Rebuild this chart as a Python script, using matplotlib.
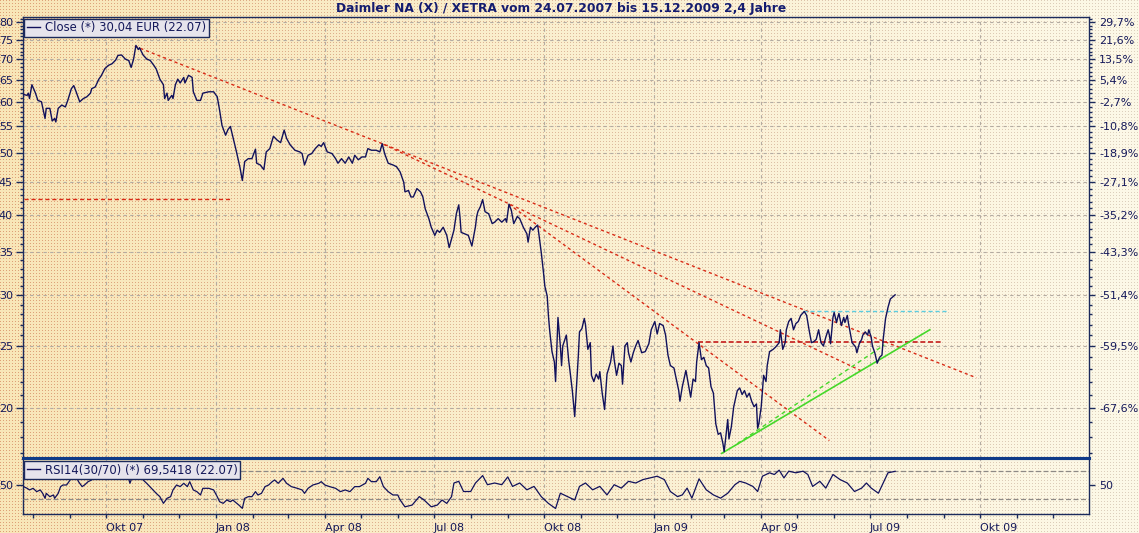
import numpy as np
import pandas as pd
import matplotlib
matplotlib.use("Agg")
import matplotlib.pyplot as plt
import matplotlib.dates as mdates
from matplotlib.ticker import FixedLocator, FixedFormatter, NullFormatter
from matplotlib.lines import Line2D

# ---------------- data ----------------
start_date = "2007-07-24"
title_text = "Daimler NA (X) / XETRA vom 24.07.2007 bis 15.12.2009 2,4 Jahre"
close_label = "Close (*) 30,04 EUR (22.07)"
rsi_label = "RSI14(30/70) (*) 69,5418 (22.07)"

price_days = [0, 3, 4, 5, 7, 10, 12, 15, 18, 19, 22, 24, 26, 27, 29, 32, 35, 37, 40, 42, 44, 47, 50, 53, 56, 57, 60, 63, 65, 68,
              71, 74, 77, 79, 82, 85, 88, 90, 92, 94, 96, 97, 100, 103, 106, 109, 111, 114, 117, 118, 120, 121, 124, 125, 127, 129, 131, 134, 135, 138,
              141, 142, 145, 148, 150, 155, 159, 162, 164, 166, 169, 171, 173, 175, 178, 181, 183, 185, 188, 191, 194, 195, 198, 201, 203, 206, 209, 212, 215, 218,
              220, 223, 227, 231, 233, 235, 238, 241, 244, 247, 249, 251, 254, 258, 261, 263, 266, 269, 272, 275, 277, 280, 283, 286, 288, 291, 295, 298, 300, 302,
              305, 309, 312, 315, 318, 319, 322, 324, 326, 329, 332, 334, 336, 339, 341, 344, 346, 348, 351, 354, 356, 360, 362, 364, 365, 366, 369, 372, 375, 378,
              379, 380, 382, 384, 386, 389, 392, 394, 397, 400, 403, 404, 406, 408, 410, 413, 415, 418, 421, 422, 424, 426, 428, 430, 431, 433, 435, 436, 438, 439,
              440, 442, 444, 445, 447, 449, 450, 451, 454, 456, 457, 459, 461, 463, 464, 465, 467, 469, 470, 472, 474, 475, 477, 479, 481, 482, 484, 486, 488, 491,
              493, 494, 496, 498, 500, 501, 503, 505, 506, 508, 510, 512, 514, 517, 520, 523, 525, 528, 530, 532, 535, 537, 539, 541, 544, 546, 548, 549, 551, 554,
              556, 558, 560, 562, 563, 565, 567, 569, 571, 573, 575, 577, 579, 581, 583, 585, 586, 588, 589, 590, 592, 594, 597, 599, 601, 603, 605, 607, 609, 611,
              613, 614, 615, 617, 619, 621, 622, 624, 627, 629, 632, 633, 635, 637, 638, 640, 642, 644, 646, 648, 650, 653, 655, 657, 659, 661, 663, 665, 667, 669,
              671, 673, 674, 675, 677, 678, 680, 681, 682, 684, 686, 687, 689, 690, 691, 693, 696, 697, 699, 701, 702, 704, 706, 707, 709, 710, 712, 714, 716, 718,
              719, 721, 723, 725, 729]
price_close = [61.7, 61.5, 62, 60.8, 63.9, 62, 60.4, 60.1, 56.6, 58.7, 58.7, 56.1, 56.6, 55.9, 58.7, 59.4, 59, 60.4, 63, 63.7, 62.3, 60.1, 60.8, 61.2, 62, 63, 63.4, 65.2, 66, 67.7,
               68.5, 68.9, 69.8, 71, 71.1, 70.1, 69.7, 68, 70, 73.6, 72.5, 73, 71.1, 70.1, 69.7, 68.5, 67.6, 65.2, 63.9, 60.8, 62, 60.4, 61.5, 60.8, 63.9, 65.2, 64.3, 65.6, 64.3, 66.1,
               65.6, 62.3, 60.4, 60.4, 62, 62.3, 62.3, 61.2, 58.3, 55.2, 53.3, 54.4, 55, 53.1, 50.3, 47.5, 45.3, 48.5, 49, 49, 50.7, 48.2, 47.9, 47.1, 50.2, 50.8, 53.1, 52.4, 51.9, 54.3,
               52.7, 51.5, 50.5, 50.2, 49.9, 47.9, 49.6, 49.9, 50.8, 51.5, 51.2, 51.9, 50.2, 49.9, 49, 48.2, 49, 48.2, 49.3, 48.2, 49.6, 48.8, 49.3, 49.3, 50.8, 50.5, 50.5, 50.2, 51.7, 49.9,
               48.2, 47.9, 47.6, 46.7, 45, 43.5, 43.7, 42.7, 42.7, 44, 43.5, 42.7, 40.9, 39.5, 38.3, 37.2, 37.9, 37.6, 38.3, 37.2, 35.6, 37.9, 40.2, 41.5, 39.8, 37.6, 37.4, 37.2, 35.8, 38.4,
               39.8, 40.5, 41.2, 42.3, 40.5, 40.2, 38.8, 39, 39.5, 39, 39.5, 39, 41.6, 40.7, 38.8, 39.8, 39.5, 38.3, 37.4, 36.3, 38.3, 37.9, 38.3, 38.6, 37.4, 35, 32.4, 31, 29.9, 27.9,
               26.5, 24.5, 23.6, 22, 27.7, 25, 23.3, 25, 26, 23.7, 22.9, 21.3, 19.4, 22.5, 24.1, 26.3, 26.6, 27.6, 27, 24.7, 25.3, 22.5, 22, 22.6, 22.2, 22.8, 21.1, 19.9, 22.6, 23.6,
               25, 23.8, 22.5, 23.5, 23.3, 21.8, 25, 25.3, 24.4, 23.6, 24.4, 25, 25.5, 24.4, 24.5, 25.2, 26.5, 27.3, 26.1, 27.1, 26.9, 26, 24.2, 23.3, 23.1, 22.2, 21.3, 20.5, 21.6, 22.9,
               21.8, 20.8, 22.2, 22, 23.6, 25.3, 23.8, 24, 23.3, 23.1, 21.6, 21.1, 18.9, 18.2, 18.3, 17.6, 17.1, 18.5, 19.2, 17.9, 18.7, 20.1, 21.3, 21.5, 21, 21.3, 20.8, 21.1, 20.5, 20.1,
               20.3, 18.6, 18.9, 20.1, 22.5, 22, 23.3, 24.5, 24.7, 24.9, 25.3, 26.5, 24.7, 25.3, 26.5, 27.3, 27.6, 26.5, 27.1, 27.3, 27.9, 28.3, 27.9, 26.5, 25.3, 25.4, 25.6, 26.5, 25.3, 25,
               25.8, 26.5, 26, 25.2, 27.7, 28.2, 27.2, 27.7, 28.1, 26.9, 27.7, 27.2, 27.9, 27.1, 26.5, 25.3, 24.9, 24.4, 25.2, 25.6, 26, 26.3, 26, 26.5, 25.8, 25, 24.4, 23.5, 24, 24.2,
               25.6, 27.6, 28.7, 29.6, 30.04]

rsi_days = [0, 3, 5, 8, 11, 14, 16, 18, 19, 22, 25, 26, 29, 31, 33, 36, 39, 41, 43, 46, 49, 51, 54, 57, 62, 70, 78, 86, 89, 90,
            93, 96, 100, 103, 107, 111, 114, 117, 120, 123, 125, 128, 131, 134, 137, 139, 142, 145, 148, 150, 155, 159, 162, 164, 167, 170, 173, 175, 180, 183,
            185, 188, 191, 194, 196, 199, 202, 205, 208, 210, 213, 217, 220, 224, 229, 233, 235, 238, 242, 247, 249, 252, 256, 261, 265, 269, 273, 277, 281, 286,
            288, 291, 295, 298, 301, 305, 309, 313, 315, 319, 325, 331, 335, 341, 346, 350, 354, 358, 360, 364, 368, 374, 378, 384, 388, 394, 400, 405, 409, 415,
            421, 427, 433, 439, 445, 449, 455, 461, 465, 470, 476, 482, 488, 494, 500, 506, 512, 518, 524, 530, 536, 541, 547, 551, 555, 559, 565, 571, 577, 583,
            589, 595, 599, 604, 610, 614, 618, 624, 628, 632, 636, 640, 646, 652, 656, 660, 666, 671, 677, 683, 689, 695, 701, 705, 709, 715, 719, 723, 729]
rsi_values = [47.9, 45.5, 43.2, 45.5, 40.8, 43.2, 38.4, 31.4, 38.4, 33.7, 36.1, 31.4, 38.4, 47.9, 50.2, 50.2, 57.3, 64, 65, 54.9, 47.9, 50.2, 54.9, 57.3, 68, 72, 66, 70, 52.6, 57.3,
              65, 68, 57.3, 52.6, 45.5, 38.4, 33.7, 24.3, 31.4, 33.7, 43.2, 50.2, 47.9, 52.6, 47.9, 54.9, 43.2, 40.8, 36.1, 45.5, 45.5, 43.2, 33.7, 26.6, 24.3, 29, 26.6, 29, 22, 17.2,
              31.4, 33.7, 33.7, 40.8, 36.1, 38.4, 47.9, 50.2, 54.9, 57.3, 52.6, 59.6, 52.6, 47.9, 45.5, 43.2, 38.4, 45.5, 50.2, 52.6, 54.9, 50.2, 47.9, 45.5, 40.8, 43.2, 40.8, 47.9, 47.9, 52.6,
              59.6, 54.9, 54.9, 61.9, 47.9, 40.8, 36.1, 36.1, 29, 19.4, 21.8, 33.8, 29, 19.4, 21.8, 29, 24.2, 33.8, 53, 55.4, 41, 41, 53, 63.5, 50.6, 53, 50.6, 61.6, 48.2, 53,
              43.4, 48.2, 33.8, 24.2, 17, 38.6, 33.8, 29, 48.2, 53, 43.4, 48.2, 36.2, 50.6, 45.8, 55.4, 53, 57.8, 60.2, 62.6, 57.8, 41, 33.8, 36.2, 45.8, 31.6, 58.9, 43.4, 36.2, 31.6,
              38.6, 50.6, 55.4, 53, 48.2, 41, 62.6, 67.4, 65, 71.2, 60.2, 69.7, 67.4, 69.7, 65, 48.2, 55.4, 45.8, 65, 57.8, 53, 41, 45.8, 53, 45.8, 38.6, 53, 67.4, 69.5]

# trend lines (day offset, price)
trend_top_days = [93, 797]
trend_top_prices = [73.4, 22.3]
trend_mid_days = [301, 702]
trend_mid_prices = [51.6, 22.8]
trend_steep_days = [406, 674]
trend_steep_prices = [41.6, 17.8]
support_days = [564, 769]
support_price = 25.4
old_level_days = [0, 174]
old_level_price = 42.4
resist_days = [652, 773]
resist_price = 28.3
green_days = [584, 758]
green_prices = [17.0, 26.5]
green2_days = [597, 720]
green2_prices = [17.6, 25.1]

price_ticks = [20, 25, 30, 35, 40, 45, 50, 55, 60, 65, 70, 75, 80]
price_tick_labels = [str(v) for v in price_ticks]
pct_labels = ["-67,6%", "-59,5%", "-51,4%", "-43,3%", "-35,2%", "-27,1%", "-18,9%",
              "-10,8%", "-2,7%", "5,4%", "13,5%", "21,6%", "29,7%"]
quarter_dates = ["2007-10-01", "2008-01-01", "2008-04-01", "2008-07-01", "2008-10-01",
                 "2009-01-01", "2009-04-01", "2009-07-01", "2009-10-01"]
quarter_labels = ["Okt 07", "Jan 08", "Apr 08", "Jul 08", "Okt 08", "Jan 09", "Apr 09", "Jul 09", "Okt 09"]

assert len(price_days) == len(price_close)
assert len(rsi_days) == len(rsi_values)

# ---------------- helpers ----------------
base = mdates.date2num(pd.Timestamp(start_date).to_pydatetime())
def dnum(days):
    return base + np.asarray(days, dtype=float)

qnums = [mdates.date2num(pd.Timestamp(d).to_pydatetime()) for d in quarter_dates]
month_nums = [mdates.date2num(d.to_pydatetime()) for d in pd.date_range("2007-08-01", "2009-12-01", freq="MS")]

W, H = 1139, 533
NAVY = "#1b2a5c"
TXT = "#14185a"
LINE = "#11115c"
BLUE = "#0f3a88"
GRID = "#b4aca2"

fig = plt.figure(figsize=(W / 100, H / 100), dpi=100)

# background texture
rr, cc = np.mgrid[0:H, 0:W]
t = (cc / (W - 1.0))[..., None]
left_c = np.array([248, 230, 184]) / 255.0
right_c = np.array([253, 249, 232]) / 255.0
bg = left_c * (1 - t) + right_c * t
dot_l = np.array([222, 160, 118]) / 255.0
dot_r = np.array([220, 208, 190]) / 255.0
dots = dot_l * (1 - t) + dot_r * t
mask = ((rr % 3 == 0) & (cc % 3 == 0)) | ((rr % 3 == 0) & (cc % 3 == 1) & (cc % 2 == 0))
mask = (rr % 3 == 0) & (cc % 3 == 0)
bg = np.where(mask[..., None], dots, bg)
fig.figimage(bg, xo=0, yo=0, origin="upper", zorder=-10)

L = 22.7 / W
R = 1089.3 / W
ax = fig.add_axes([L, 74.7 / H, R - L, (458.3 - 17) / H])
rx = fig.add_axes([L, 18.7 / H, R - L, 56 / H])

xmin, xmax = base - 0.7, base + 891.4
for a in (ax, rx):
    a.set_facecolor("none")
    a.set_xlim(xmin, xmax)
    for s in a.spines.values():
        s.set_color(NAVY)
        s.set_linewidth(1.0)

# ---- main price pane ----
ax.set_yscale("log")
ax.set_ylim(16.7, 81.5)
ax.plot(dnum(price_days), price_close, color=LINE, lw=1.0, zorder=5, label=close_label)

red = "#d92a16"
dash_red = (0, (2.2, 2.2))
ax.plot(dnum(trend_top_days), trend_top_prices, color=red, lw=1.0, ls=dash_red, zorder=4)
ax.plot(dnum(trend_mid_days), trend_mid_prices, color=red, lw=1.0, ls=dash_red, zorder=4)
ax.plot(dnum(trend_steep_days), trend_steep_prices, color=red, lw=1.0, ls=dash_red, zorder=4)
ax.plot(dnum(support_days), [support_price] * 2, color="#c41c1c", lw=1.2, ls=(0, (3, 1.6)), zorder=4)
ax.plot(dnum(old_level_days), [old_level_price] * 2, color=red, lw=1.0, ls=(0, (3, 2)), zorder=4)
ax.plot(dnum(resist_days), [resist_price] * 2, color="#5ccde0", lw=1.0, ls=(0, (3, 2)), zorder=4)
ax.plot(dnum(green_days), green_prices, color="#45d82a", lw=1.2, zorder=4)
ax.plot(dnum(green2_days), green2_prices, color="#45d82a", lw=1.0, ls=(0, (3, 2.5)), zorder=4)

ax.yaxis.set_major_locator(FixedLocator(price_ticks))
ax.yaxis.set_major_formatter(FixedFormatter(price_tick_labels))
ax.yaxis.set_minor_locator(FixedLocator(list(range(17, 82))))
ax.yaxis.set_minor_formatter(NullFormatter())
ax.tick_params(axis="y", which="major", direction="out", length=5, width=1, color=NAVY,
               labelsize=8, labelcolor=TXT, pad=2)
ax.tick_params(axis="y", which="minor", direction="out", length=2.5, width=1, color=NAVY)
ax.xaxis.set_major_locator(FixedLocator(qnums))
ax.tick_params(axis="x", which="both", length=0, labelbottom=False)
ax.grid(True, which="major", axis="both", color=GRID, lw=0.8, ls=(0, (3, 3)))
ax.spines["bottom"].set_color(BLUE)
ax.spines["bottom"].set_linewidth(2.2)

ax2 = ax.twinx()
ax2.set_yscale("log")
ax2.set_ylim(16.7, 81.5)
ax2.set_facecolor("none")
ax2.yaxis.set_major_locator(FixedLocator(price_ticks))
ax2.yaxis.set_major_formatter(FixedFormatter(pct_labels))
ax2.yaxis.set_minor_locator(FixedLocator(list(range(17, 82))))
ax2.yaxis.set_minor_formatter(NullFormatter())
ax2.tick_params(axis="y", which="major", direction="out", length=4, width=1, color=NAVY,
                labelsize=8, labelcolor=TXT, pad=3)
ax2.tick_params(axis="y", which="minor", direction="out", length=2.5, width=1, color=NAVY)
for s in ax2.spines.values():
    s.set_visible(False)

def style_legend(lg):
    fr = lg.get_frame()
    fr.set_facecolor("#e6e4ec")
    fr.set_edgecolor(NAVY)
    fr.set_linewidth(1.0)
    fr.set_alpha(1)
    for txt in lg.get_texts():
        txt.set_color(TXT)
    lg.set_zorder(20)

leg = ax.legend(handles=[Line2D([0], [0], color=LINE, lw=1.0)], labels=[close_label],
                loc="upper left", bbox_to_anchor=(0.0015, 0.996), borderaxespad=0,
                frameon=True, fancybox=False, fontsize=8.4, handlelength=1.1, handletextpad=0.45,
                borderpad=0.22)
style_legend(leg)

# ---- RSI pane ----
rx.set_ylim(8.8, 87.9)
rx.plot(dnum(rsi_days), rsi_values, color=LINE, lw=0.9, zorder=5)
for lvl in (30, 70):
    rx.axhline(lvl, color="#8e8a86", lw=0.9, ls=(0, (4, 2)), zorder=3)
rx.xaxis.set_major_locator(FixedLocator(qnums))
rx.xaxis.set_major_formatter(FixedFormatter(quarter_labels))
rx.xaxis.set_minor_locator(FixedLocator(month_nums))
rx.tick_params(axis="x", which="major", direction="out", length=3, width=1, color=NAVY,
               labelsize=8, labelcolor=TXT, pad=3)
rx.tick_params(axis="x", which="minor", direction="out", length=3, width=1, color=NAVY)
for lab in rx.get_xticklabels():
    lab.set_horizontalalignment("left")
rx.grid(True, which="major", axis="x", color=GRID, lw=0.8, ls=(0, (3, 3)))
rx.yaxis.set_major_locator(FixedLocator([50]))
rx.yaxis.set_major_formatter(FixedFormatter(["50"]))
rx.tick_params(axis="y", which="major", direction="out", length=5, width=1, color=NAVY,
               labelsize=8, labelcolor=TXT, pad=2)
rx.spines["top"].set_color(BLUE)
rx.spines["top"].set_linewidth(2.2)

rx2 = rx.twinx()
rx2.set_ylim(8.8, 87.9)
rx2.set_facecolor("none")
rx2.yaxis.set_major_locator(FixedLocator([50]))
rx2.yaxis.set_major_formatter(FixedFormatter(["50"]))
rx2.tick_params(axis="y", which="major", direction="out", length=4, width=1, color=NAVY,
                labelsize=8, labelcolor=TXT, pad=3)
for s in rx2.spines.values():
    s.set_visible(False)

leg2 = rx.legend(handles=[Line2D([0], [0], color=LINE, lw=1.0)], labels=[rsi_label],
                 loc="upper left", bbox_to_anchor=(0.0015, 0.955), borderaxespad=0,
                 frameon=True, fancybox=False, fontsize=8.4, handlelength=1.1, handletextpad=0.45,
                 borderpad=0.22)
style_legend(leg2)

fig.text(561 / W, 1 - 8.5 / H, title_text, ha="center", va="center", fontsize=8.8,
         fontweight="bold", color="#141c70")

fig.savefig("out.png", dpi=100)
